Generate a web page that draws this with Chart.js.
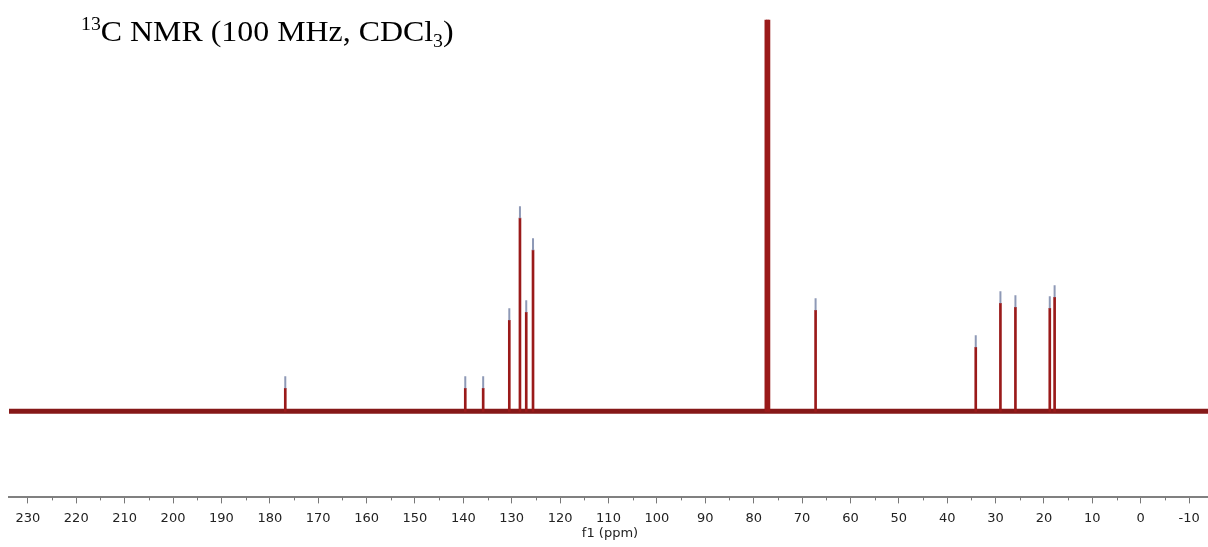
<!DOCTYPE html>
<html>
<head>
<meta charset="utf-8">
<script src="https://cdn.jsdelivr.net/npm/chart.js@4.4.0/dist/chart.umd.min.js"></script>
<style>
  html, body { margin: 0; padding: 0; background: #fff; }
  #wrap { position: relative; width: 1208px; height: 547px; }
  #title {
    position: absolute; left: 81px; top: 17px;
    font-family: "Liberation Serif", "Times New Roman", serif;
    font-size: 29px; line-height: 29px; color: #000; white-space: nowrap;
    transform: scaleX(1.1); transform-origin: left top;
  }
  #title .sup { font-size: 18px; position: relative; top: -11px; }
  #title .sub { font-size: 18px; position: relative; top: 6px; }
  #xlabel {
    position: absolute; left: 610px; top: 525px; transform: translateX(-50%);
    font-family: "DejaVu Sans", sans-serif; font-size: 13px; line-height: 15px;
    color: #222; white-space: nowrap;
  }
</style>
</head>
<body>
<div id="wrap">
  <canvas id="nmr" width="1208" height="547"></canvas>
  <div id="title"><span class="sup">13</span>C NMR (100 MHz, CDCl<span class="sub">3</span>)</div>
  <div id="xlabel">f1 (ppm)</div>
</div>
<script>
// peak positions (ppm) and heights
const peakShifts = [176.8, 139.6, 135.9, 130.5, 128.3, 127.0, 125.6, 77.48, 77.16, 76.84, 67.2, 34.1, 29.0, 25.9, 18.8, 17.8];
const peakHeights = [23, 23, 23, 91, 193, 99, 161, 391, 391, 391, 101, 64, 108, 104, 103, 114];
// peaks that carry a peak-pick marker (solvent triplet has none)
const pickedShifts = [176.8, 139.6, 135.9, 130.5, 128.3, 127.0, 125.6, 67.2, 34.1, 29.0, 25.9, 18.8, 17.8];
const ppmRange = [-13.9, 233.9];

const red = "#9a1a1a";

const peaks = peakShifts.map((x, i) => ({ x: x, y: peakHeights[i] }));
const markers = pickedShifts.map(x => ({ x: x, y: peakHeights[peakShifts.indexOf(x)] + 6 }));
const baseline = [{ x: ppmRange[1], y: 0 }, { x: ppmRange[0], y: 0 }];

// short ticks halfway between the labelled ones
const minorTicks = {
  id: "minorTicks",
  afterDraw(chart) {
    const sx = chart.scales.x;
    const ctx = chart.ctx;
    const y0 = chart.chartArea.bottom;
    ctx.save();
    ctx.strokeStyle = "#777";
    ctx.lineWidth = 1;
    for (let v = -5; v <= 230; v += 10) {
      const px = Math.round(sx.getPixelForValue(v)) + 0.5;
      ctx.beginPath();
      ctx.moveTo(px, y0);
      ctx.lineTo(px, y0 + 3);
      ctx.stroke();
    }
    ctx.restore();
  }
};

new Chart(document.getElementById("nmr"), {
  type: "bar",
  data: {
    datasets: [
      {
        type: "scatter",
        data: markers,
        pointStyle: "line",
        rotation: 90,
        pointRadius: 6,
        borderWidth: 2,
        borderColor: "#8e99b6",
        order: 0
      },
      {
        type: "bar",
        data: peaks,
        backgroundColor: red,
        barThickness: 2,
        grouped: false,
        order: 1
      },
      {
        type: "line",
        data: baseline,
        borderColor: "#861818",
        borderWidth: 5,
        pointRadius: 0,
        order: 2
      }
    ]
  },
  options: {
    responsive: false,
    animation: false,
    layout: { autoPadding: false, padding: { left: 9, right: 0, top: 0, bottom: 14 } },
    plugins: { legend: { display: false }, tooltip: { enabled: false } },
    scales: {
      x: {
        type: "linear",
        reverse: true,
        offset: false,
        min: ppmRange[0],
        max: ppmRange[1],
        afterFit: s => { s.paddingLeft = 0; s.paddingRight = 0; },
        border: { display: true, color: "#808080", width: 2 },
        grid: { offset: false, drawOnChartArea: false, drawTicks: true, tickLength: 6, color: "#777" },
        ticks: {
          stepSize: 10,
          includeBounds: false,
          autoSkip: false,
          maxRotation: 0,
          padding: 7,
          color: "#222",
          font: { family: "DejaVu Sans", size: 13 }
        }
      },
      y: {
        display: false,
        min: -86,
        max: 411
      }
    }
  },
  plugins: [minorTicks]
});
</script>
</body>
</html>
